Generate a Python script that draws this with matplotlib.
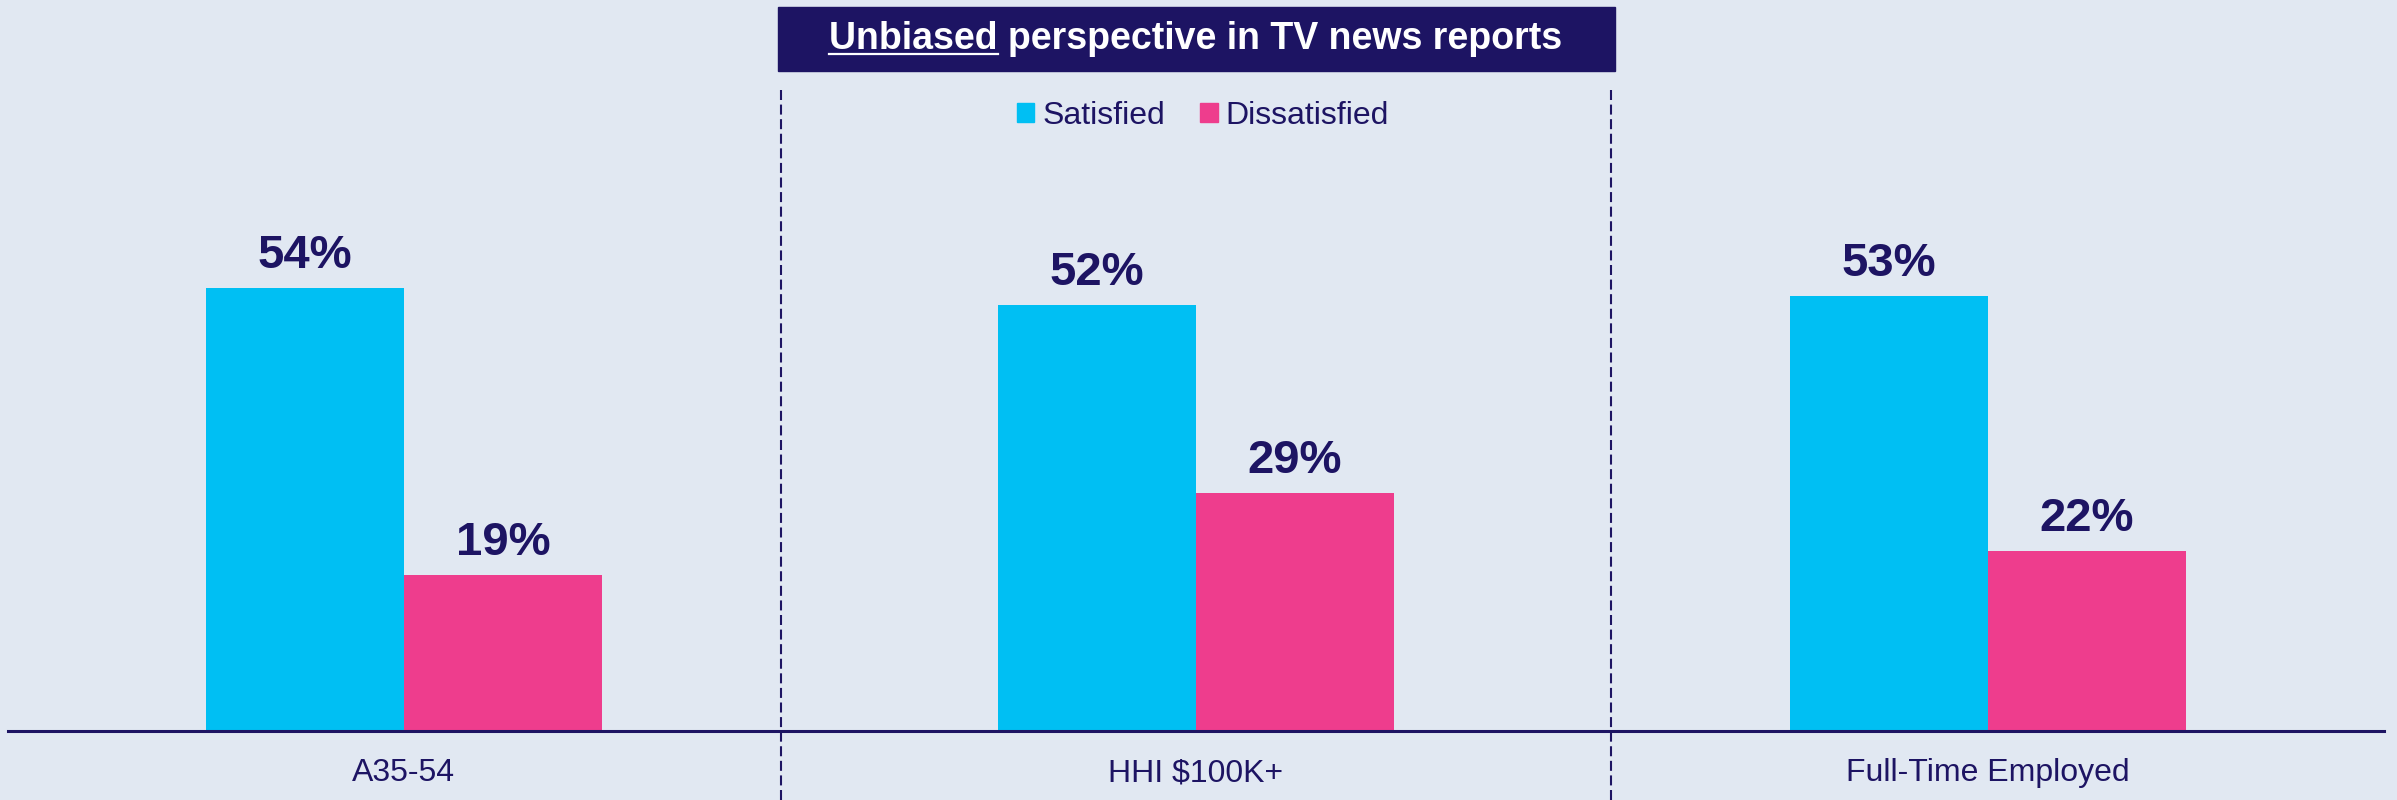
import numpy as np
import matplotlib.pyplot as plt
from matplotlib.lines import Line2D
from matplotlib.patches import Patch, Rectangle

plt.rcParams['font.family'] = ['Liberation Sans', 'DejaVu Sans']

categories = ['A35-54', 'HHI $100K+', 'Full-Time Employed']
satisfied = [54, 52, 53]
dissatisfied = [19, 29, 22]
series_names = ['Satisfied', 'Dissatisfied']

bg = '#E1E8F2'
navy = '#1D1463'
cyan = '#00BFF3'
pink = '#EE3D8D'

W, H = 2397, 800
fig = plt.figure(figsize=(W / 100, H / 100), dpi=100, facecolor=bg)
ax = fig.add_axes([8 / W, 69 / H, 2376 / W, 574 / H])
ax.set_facecolor(bg)

x = np.arange(len(categories)) + 0.5
w = 0.25
b1 = ax.bar(x - w / 2, satisfied, w, color=cyan, label=series_names[0])
b2 = ax.bar(x + w / 2, dissatisfied, w, color=pink, label=series_names[1])

for bars, vals in [(b1, satisfied), (b2, dissatisfied)]:
    for r, v in zip(bars, vals):
        ax.annotate(f'{v}%', (r.get_x() + r.get_width() / 2, v),
                    xytext=(0, 14.4), textcoords='offset points',
                    ha='center', va='baseline', fontsize=34,
                    fontweight='bold', color=navy)

for xi, lab in zip(x, categories):
    ax.annotate(lab, (xi, 0), xycoords=('data', 'axes fraction'),
                xytext=(0, -36), textcoords='offset points',
                ha='center', va='baseline', fontsize=23, color=navy)

ax.set_xlim(0, 3)
ax.set_ylim(0, 70)
for s in ['top', 'right', 'left']:
    ax.spines[s].set_visible(False)
ax.spines['bottom'].set_color(navy)
ax.spines['bottom'].set_linewidth(2.2)
ax.set_xticks([])
ax.set_yticks([])

# dashed dividers
for px in [781, 1611]:
    fig.add_artist(Line2D([px / W, px / W], [0, 1 - 88 / H],
                          transform=fig.transFigure, color=navy,
                          lw=1.5, ls=(0, (4.8, 2.2))))

# title box
fig.add_artist(Rectangle((778 / W, 1 - 71 / H), 837 / W, 64 / H,
                         transform=fig.transFigure, color=navy))
title = 'Unbiased perspective in TV news reports'
ty = 1 - 49 / H
t = fig.text(1196 / W, ty, title, ha='center', va='baseline',
             fontsize=27, fontweight='bold', color='white')
r = fig.canvas.get_renderer()
bb = t.get_window_extent(r)
t1 = fig.text(bb.x0 / W, ty, 'Unbiased', ha='left', va='baseline',
              fontsize=27, fontweight='bold', color='white', alpha=0)
bb1 = t1.get_window_extent(r)
uy = ty - 5 / H
fig.add_artist(Line2D([bb1.x0 / W, bb1.x1 / W], [uy, uy],
                      transform=fig.transFigure, color='white', lw=1.6))

handles = [Patch(color=cyan), Patch(color=pink)]
fig.legend(handles, series_names, loc='center',
           bbox_to_anchor=(1203 / W, 1 - 116 / H), ncol=2, frameon=False,
           fontsize=23, handlelength=0.55, handleheight=0.55,
           handletextpad=0.25, columnspacing=1.1, labelcolor=navy)

fig.savefig('out.png', dpi=100, facecolor=bg)
